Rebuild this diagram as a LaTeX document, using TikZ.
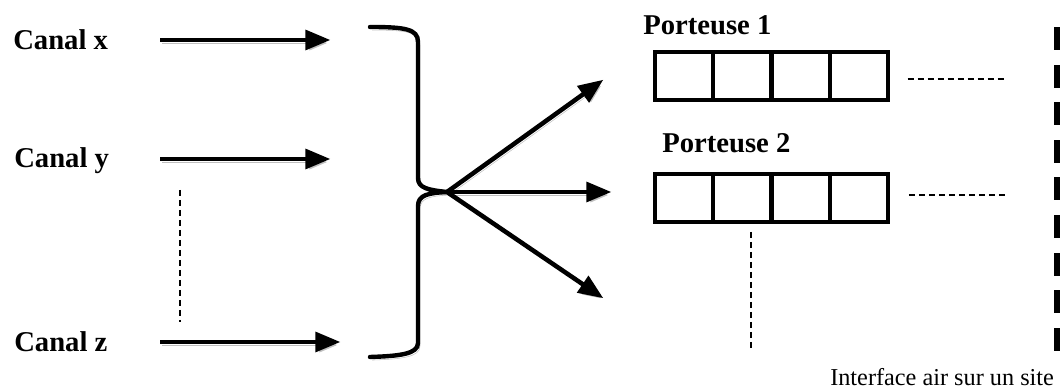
\documentclass[tikz,border=0pt]{standalone}
\usepackage{fontspec}
\setmainfont{Liberation Serif}
\usepackage{tikz}
\usetikzlibrary{arrows,positioning}

\tikzset{
	canal/.style={font=\fontsize{21.5}{26}\selectfont\bfseries, inner sep=0pt, anchor=base west},
	ombre/.style={preaction={draw=gray!50, transform canvas={shift={(1.5pt,-2.3pt)}}}},
	fleche/.style={->, line width=3.4pt, ombre},
	case/.style={draw, line width=3.3pt, minimum width=43.7pt, minimum height=36pt, inner sep=0pt},
	pointille/.style={draw, line width=1pt, dash pattern=on 4.5pt off 3pt},
	colonne/.style={draw, line width=9pt, dash pattern=on 17.3pt off 10.9pt, ombre}
}

\begin{document}
\begin{tikzpicture}[x=0.75pt,y=-0.75pt,>=triangle 45]
	\useasboundingbox (0,0) rectangle (1060,391);

	% canaux
	\node[canal] (cx) at (13,50) {Canal x};
	\node[canal] (cy) at (14,168) {Canal y};
	\node[canal] (cz) at (14,352) {Canal z};

	\coordinate (ax0) at (160,40);  \coordinate (ax1) at (330,40);
	\coordinate (ay0) at (160,159); \coordinate (ay1) at (330,159);
	\coordinate (az0) at (160,342); \coordinate (az1) at (340,342);
	\draw[fleche] (ax0) -- (ax1);
	\draw[fleche] (ay0) -- (ay1);
	\draw[fleche] (az0) -- (az1);

	\coordinate (vy0) at (180,190); \coordinate (vy1) at (180,322);
	\draw[pointille] (vy0) -- (vy1);

	% accolade
	\coordinate (pointe) at (447,192);
	\draw[line width=3.3pt, ombre, line cap=round]
		(370,27) .. controls (405,27) and (418,29) .. (418,42) -- (418,178)
		.. controls (418,188) and (428,190) .. (pointe)
		.. controls (428,193) and (418,195) .. (418,206) -- (418,343)
		.. controls (418,354) and (400,356) .. (370,357);

	\coordinate (b1) at (603,80);
	\coordinate (b2) at (611,192);
	\coordinate (b3) at (603,298);
	\draw[fleche] (pointe) -- (b1);
	\draw[fleche] (pointe) -- (b2);
	\draw[fleche] (pointe) -- (b3);

	% porteuses
	\node[canal] (p1) at (643,35) {Porteuse 1};
	\node[canal] (p2) at (662,153) {Porteuse 2};

	\foreach \i in {1,...,4} {
		\node[case] (u\i) at ({655+58.25*(\i-0.5)},76) {};
		\node[case] (v\i) at ({655+58.25*(\i-0.5)},198) {};
	}

	\coordinate (h1) at (1007,79);
	\coordinate (h2) at (1007,195);
	\draw[pointille] ([xshift=13pt]u4.east |- h1) -- (h1);
	\draw[pointille] ([xshift=14pt]v4.east |- h2) -- (h2);

	\coordinate (d2) at (751,350);
	\draw[pointille] (d2 |- 0,232) -- (d2);

	\coordinate (c0) at (1060,27);
	\coordinate (c1) at (1060,365);
	\draw[colonne] (c0) -- (c1);

	\node[inner sep=0pt, anchor=base west, font=\fontsize{18.2}{22}\selectfont] (site) at (830,386) {Interface air sur un site};
\end{tikzpicture}
\end{document}
